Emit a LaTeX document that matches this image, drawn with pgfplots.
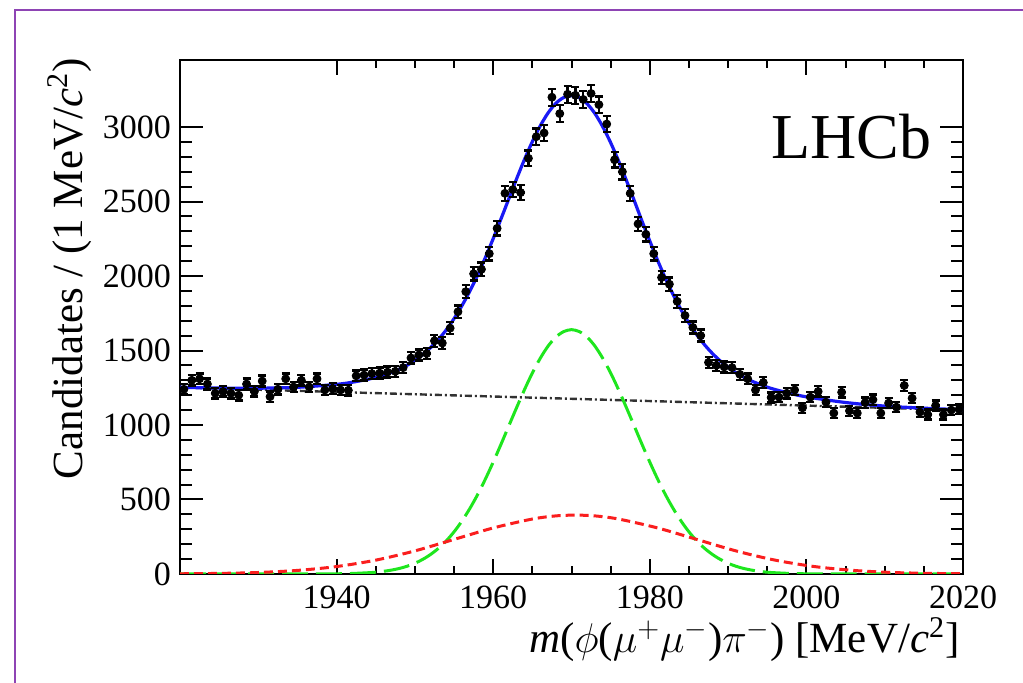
\documentclass[border=0pt]{standalone}
\usepackage{pgfplots}
\pgfplotsset{compat=1.18}
\usepackage{pgfplotstable}
\usepackage{fontspec}
\setmainfont{Liberation Serif}

\definecolor{framepurple}{RGB}{142,68,180}
\definecolor{fitblue}{RGB}{25,25,245}
\definecolor{siggreen}{RGB}{30,230,30}
\definecolor{sigred}{RGB}{250,30,30}
\definecolor{bkggray}{RGB}{50,50,50}

\pgfplotstableread{
m n e
1920.5 1240 35
1921.5 1300 36
1922.5 1310 36
1923.5 1275 36
1924.5 1213 35
1925.5 1225 35
1926.5 1213 35
1927.5 1200 35
1928.5 1275 36
1929.5 1225 35
1930.5 1295 36
1931.5 1190 34
1932.5 1240 35
1933.5 1310 36
1934.5 1255 35
1935.5 1300 36
1936.5 1255 35
1937.5 1310 36
1938.5 1235 35
1939.5 1245 35
1940.5 1235 35
1941.5 1233 35
1942.5 1330 36
1943.5 1335 37
1944.5 1345 37
1945.5 1348 37
1946.5 1355 37
1947.5 1360 37
1948.5 1385 37
1949.5 1450 38
1950.5 1470 38
1951.5 1480 38
1952.5 1565 40
1953.5 1550 39
1954.5 1650 41
1955.5 1760 42
1956.5 1895 44
1957.5 2015 45
1958.5 2045 45
1959.5 2150 46
1960.5 2320 48
1961.5 2555 51
1962.5 2580 51
1963.5 2560 51
1964.5 2790 53
1965.5 2935 54
1966.5 2960 54
1967.5 3200 57
1968.5 3090 56
1969.5 3220 57
1970.5 3213 57
1971.5 3185 56
1972.5 3225 57
1973.5 3150 56
1974.5 3020 55
1975.5 2780 53
1976.5 2700 52
1977.5 2555 51
1978.5 2350 48
1979.5 2280 48
1980.5 2150 46
1981.5 1990 45
1982.5 1945 44
1983.5 1830 43
1984.5 1735 42
1985.5 1655 41
1986.5 1600 40
1987.5 1420 38
1988.5 1400 37
1989.5 1390 37
1990.5 1385 37
1991.5 1340 37
1992.5 1310 36
1993.5 1235 35
1994.5 1285 36
1995.5 1185 34
1996.5 1187 34
1997.5 1213 35
1998.5 1235 35
1999.5 1115 33
2000.5 1187 34
2001.5 1225 35
2002.5 1153 34
2003.5 1080 33
2004.5 1220 35
2005.5 1095 33
2006.5 1080 33
2007.5 1150 34
2008.5 1170 34
2009.5 1080 33
2010.5 1147 34
2011.5 1120 33
2012.5 1265 36
2013.5 1180 34
2014.5 1087 33
2015.5 1070 33
2016.5 1130 34
2017.5 1070 33
2018.5 1100 33
2019.5 1105 33
}\datatable

\begin{document}
\begin{tikzpicture}
\useasboundingbox (0,0) rectangle (511.5pt,341.5pt);
\fill[framepurple] (7pt,0pt) rectangle (8.1pt,337.05pt);
\fill[framepurple] (7pt,335.95pt) rectangle (511.5pt,337.05pt);
\begin{axis}[
  scale only axis, width=391.5pt, height=257pt,
  at={(90pt,54.5pt)}, anchor=south west,
  xmin=1920, xmax=2020, ymin=0, ymax=3450,
  xtick={1940,1960,1980,2000,2020}, minor x tick num=3,
  ytick={0,500,1000,1500,2000,2500,3000}, minor y tick num=4,
  tick align=inside, xtick pos=both, ytick pos=both,
  axis line style={line width=1.3pt, black},
  every tick/.style={black, line width=1pt},
  major tick length=11.5pt, minor tick length=6pt,
  xtick style={/pgfplots/major tick length=7.5pt, /pgfplots/minor tick length=4pt},
  /pgf/number format/assume math mode=true,
  /pgf/number format/1000 sep={},
  scaled y ticks=false, scaled x ticks=false,
  tick label style={font=\fontsize{17}{20}\selectfont},
  xticklabel style={yshift=-2.4pt},
  yticklabel style={xshift=-1pt},
  xlabel={\textit{m}($\phi$($\mu^{+}\mu^{-}$)$\pi^{-}$) [MeV/\textit{c}\textsuperscript{2}]},
  every axis x label/.style={at={(axis description cs:0.996,-0.152)}, anchor=base east, inner sep=0pt, font=\fontsize{21.5}{24}\selectfont},
  ylabel={Candidates / (1 MeV/\textit{c}\textsuperscript{2})},
  every axis y label/.style={at={(axis description cs:-0.124,1.004)}, rotate=90, anchor=base east, inner sep=0pt, font=\fontsize{21.5}{24}\selectfont},
  clip=true,
]
% background
\addplot[bkggray, line width=1.2pt, dash pattern=on 3.5pt off 1.5pt on 1pt off 1.5pt] coordinates {(1920,1252) (2020,1100)};
% narrow signal component
\addplot[siggreen, line width=1.5pt, smooth, dash pattern=on 13pt off 4pt] coordinates {
(1920,0) (1930,0) (1935,0.1) (1940,1.4) (1942,3.6) (1944,8.4) (1945,12) (1946,18) (1947,26) (1948,37) (1949,52)
(1950,72) (1951,98) (1952,131) (1953,172) (1954,222) (1955,283) (1956,355) (1957,438) (1958,532) (1959,637)
(1960,751) (1961,871) (1962,995) (1963,1118) (1964,1238) (1965,1349) (1966,1447) (1967,1529) (1968,1590) (1969,1627)
(1970,1640) (1971,1627) (1972,1590) (1973,1529) (1974,1447) (1975,1349) (1976,1238) (1977,1118) (1978,995) (1979,871)
(1980,751) (1981,637) (1982,532) (1983,438) (1984,355) (1985,283) (1986,222) (1987,172) (1988,131) (1989,98)
(1990,72) (1991,52) (1992,37) (1993,26) (1994,18) (1995,12) (1996,8.4) (1998,3.6) (2000,1.4) (2005,0.1) (2010,0) (2020,0)};
% wide signal component
\addplot[sigred, line width=1.5pt, smooth, dash pattern=on 4.5pt off 2.5pt] coordinates {
(1920,1.4) (1925,4) (1930,10) (1935,24) (1940,50) (1945,93) (1950,155) (1955,232) (1960,309) (1965,369) (1968,390)
(1970,395) (1971,395) (1973,390) (1976,369) (1981,309) (1986,232) (1991,155) (1996,93) (2001,50) (2006,24)
(2011,10) (2016,4) (2020,1.7)};
% total fit
\addplot[fitblue, line width=1.6pt, smooth] coordinates {
(1920,1253) (1925,1248) (1930,1247) (1935,1253) (1940,1273) (1942,1287) (1944,1307) (1945,1319) (1946,1335) (1947,1353)
(1948,1374) (1949,1401) (1950,1433) (1951,1473) (1952,1519) (1953,1574) (1954,1638) (1955,1714) (1956,1800) (1957,1897)
(1958,2005) (1959,2124) (1960,2251) (1961,2384) (1962,2519) (1963,2654) (1964,2783) (1965,2902) (1966,3007) (1967,3094)
(1968,3159) (1969,3198) (1970,3211) (1971,3197) (1972,3156) (1973,3090) (1974,3001) (1975,2895) (1976,2774) (1977,2643)
(1978,2508) (1979,2369) (1980,2235) (1981,2105) (1982,1984) (1983,1873) (1984,1773) (1985,1684) (1986,1606) (1987,1538)
(1988,1480) (1989,1430) (1990,1388) (1991,1351) (1992,1321) (1993,1295) (1994,1274) (1995,1254) (1996,1238) (1998,1211)
(2000,1189) (2005,1151) (2010,1127) (2015,1113) (2020,1102)};
% data: horizontal bin-width bars
\addplot[draw=none, mark=none,
  error bars/.cd, x dir=both, x fixed=0.5, error mark=none,
  error bar style={line width=1.2pt, black}]
  table[x=m, y=n] {\datatable};
% data: points with vertical error bars
\addplot[black, only marks, mark=*, mark size=2pt,
  error bars/.cd, y dir=both, y explicit,
  error mark options={rotate=90, mark size=2pt, line width=1.2pt, black},
  error bar style={line width=1.2pt, black}]
  table[x=m, y=n, y error=e] {\datatable};
\node[anchor=base east, inner sep=0pt, font=\fontsize{32}{36}\selectfont] at (axis description cs:0.960,0.809) {LHCb};
\end{axis}
\end{tikzpicture}
\end{document}
